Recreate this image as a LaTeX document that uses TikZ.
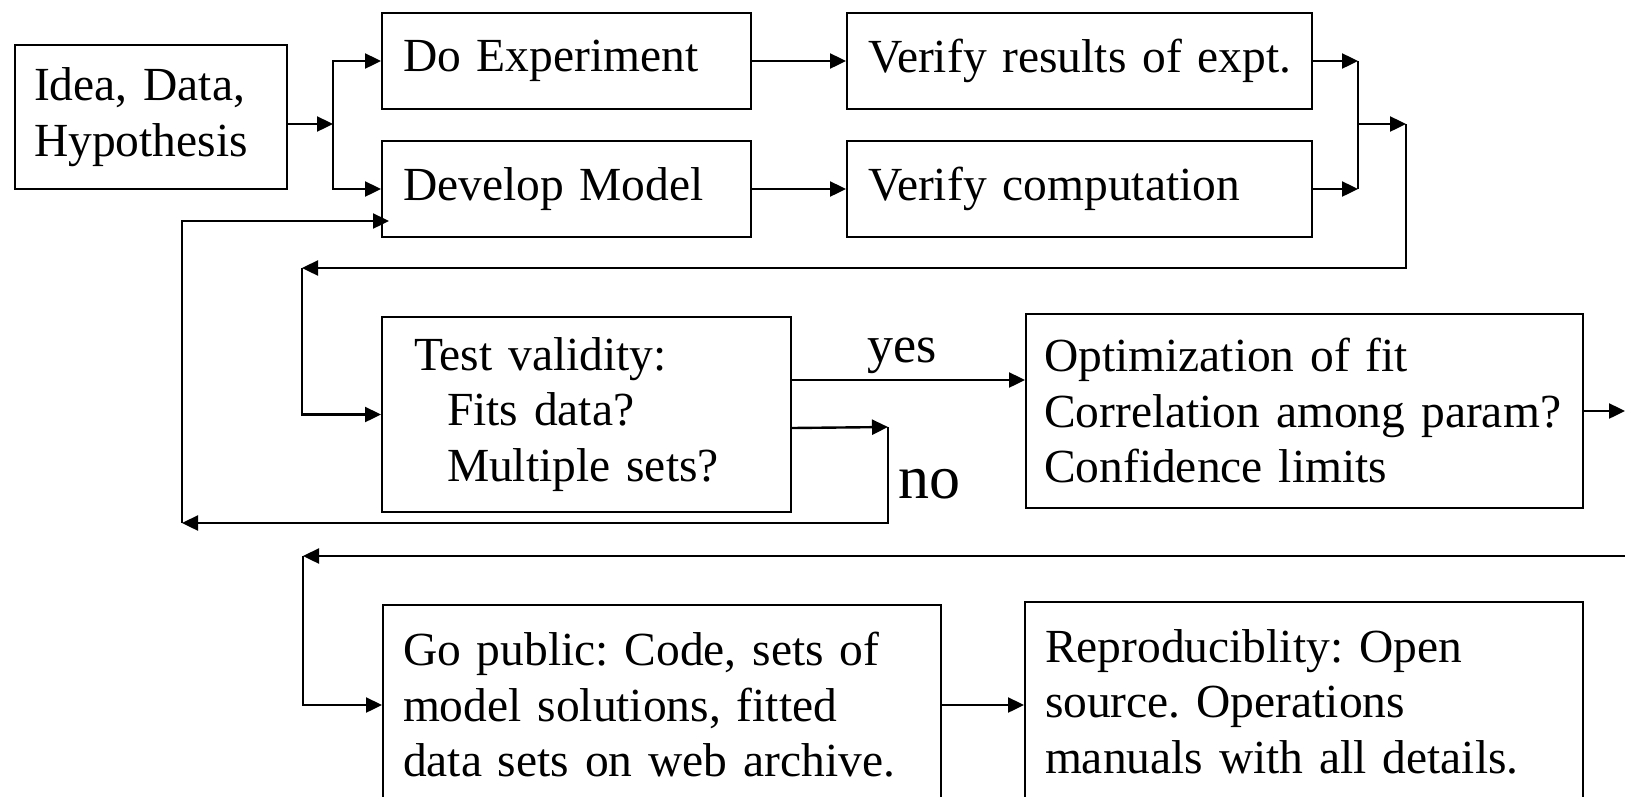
\documentclass[tikz,border=0pt]{standalone}
\usepackage{fontspec}
\setmainfont{Liberation Serif}
\usetikzlibrary{arrows.meta,calc}
\newcommand{\boxfont}{\fontsize{47.5pt}{55.5pt}\selectfont\frenchspacing\spaceskip=0.18em plus 0.02em minus 0.02em\relax}
\begin{document}
\begin{tikzpicture}[x=1pt,y=-1pt,
  box/.style={draw, line width=2pt, rectangle, inner ysep=0pt, align=left,
     anchor=north west, font=\boxfont},
  conn/.style={line width=2.4pt, -{Triangle[length=16pt,width=15pt]}},
  seg/.style={line width=2.4pt},
  lbl/.style={inner sep=0pt, anchor=base west},
]
\useasboundingbox (0,0) rectangle (1625,796);
\clip (0,0) rectangle (1625,796);
\fill[white] (0,0) rectangle (1625,796);

% boxes
\node[box, minimum width=272pt, minimum height=144pt, text width=234pt, inner xsep=19pt] (idea) at (14,44) {Idea, Data,\\Hypothesis};
\node[box, minimum width=369pt, minimum height=96pt, text width=327pt, inner xsep=21pt] (doexp) at (381,12) {\mbox{Do Experiment}};
\node[box, minimum width=369pt, minimum height=96pt, text width=327pt, inner xsep=21pt] (devmod) at (381,140) {\mbox{Develop Model}};
\node[box, minimum width=465pt, minimum height=96pt, text width=423pt, inner xsep=21pt] (verres) at (846,12) {\mbox{Verify results of expt.}};
\node[box, minimum width=465pt, minimum height=96pt, text width=423pt, inner xsep=21pt] (vercomp) at (846,140) {\mbox{Verify computation}};
\node[box, minimum width=409pt, minimum height=195pt, text width=345pt, inner xsep=32pt] (test) at (381,316) {Test validity:\\\hspace*{33pt}Fits data?\\\hspace*{33pt}Multiple sets?};
\node[box, minimum width=557pt, minimum height=194pt, text width=521pt, inner xsep=18pt] (opt) at (1025,313) {\mbox{Optimization of fit}\\\mbox{Correlation among param?}\\\mbox{Confidence limits}};
\node[box, minimum width=558pt, minimum height=200pt, text width=518pt, inner xsep=20pt] (gopub) at (382,604) {\mbox{Go public: Code, sets of}\\\mbox{model solutions, fitted}\\\mbox{data sets on web archive.}};
\node[box, minimum width=558pt, minimum height=199pt, text width=518pt, inner xsep=20pt] (repro) at (1024,601) {\mbox{Reproduciblity: Open}\\\mbox{source. Operations}\\\mbox{manuals with all details.}};

% labels
\node[lbl, font=\fontsize{52pt}{52pt}\selectfont] (yes) at (867,362) {yes};
\node[lbl, font=\fontsize{62pt}{62pt}\selectfont] (no) at (898,498) {no};

% junction coordinates
\coordinate (split) at (333,124);
\coordinate (j1) at (1358,124);
\coordinate (j2) at (1406,124);
\coordinate (r1) at (302,268);
\coordinate (nc) at (888,427);
\coordinate (fb) at (182,523);
\coordinate (oe) at (1625,412);
\coordinate (rs) at (1625,556);
\coordinate (r2) at (303,556);

% top part
\draw[conn] (idea.east |- split) -- (split);
\draw[conn] (split) |- (doexp.west);
\draw[conn] (split) |- (devmod.west);
\draw[conn] (doexp.east) -- (verres.west);
\draw[conn] (devmod.east) -- (vercomp.west);
\draw[conn] (verres.east) -- (verres.east -| j1);
\draw[conn] (vercomp.east) -- (vercomp.east -| j1);
\draw[seg] (verres.east -| j1) -- (vercomp.east -| j1);
\draw[conn] (j1) -- (j2);
\draw[conn] (j2) |- (r1);
\draw[conn] (r1) |- (test.west);

% yes / no
\draw[conn] ([yshift=34.5pt]test.east) -- ([yshift=34.5pt]test.east -| opt.west);
\draw[conn] ([yshift=-13.5pt]test.east) -- (nc);
\draw[conn] (nc) |- (fb);
\draw[conn] (fb) |- ([shift={(8pt,-32pt)}]devmod.west);

% lower part
\draw[conn] (opt.east) -- (opt.east -| oe);
\draw[conn] (rs) -- (r2);
\draw[conn] (r2) |- (gopub.west);
\draw[conn] (gopub.east) -- (gopub.east -| repro.west);
\end{tikzpicture}
\end{document}
